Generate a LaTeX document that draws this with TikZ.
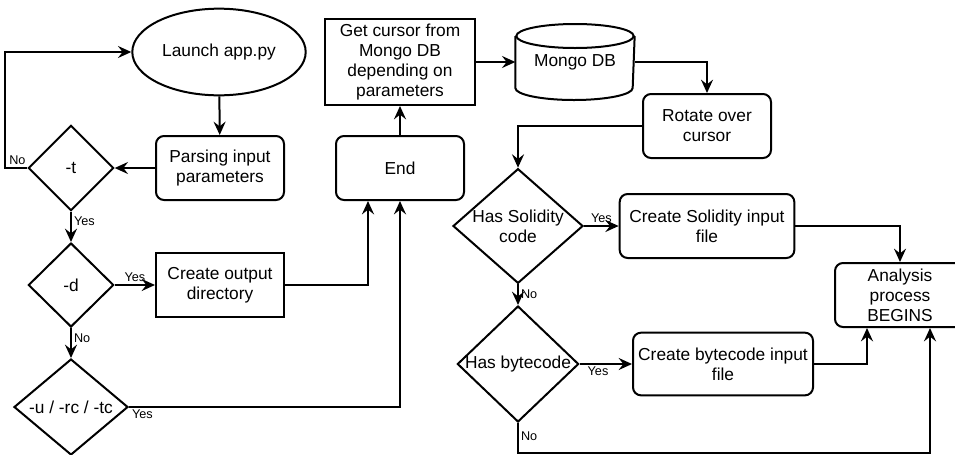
\documentclass[tikz,border=0pt]{standalone}
\usepackage{fontspec}
\setmainfont{Liberation Sans}
\usetikzlibrary{shapes.geometric, arrows.meta}

\begin{document}
\begin{tikzpicture}[x=0.75pt, y=-0.75pt, line width=1.5pt, font=\fontsize{13}{15}\selectfont,
	every node/.style={align=center},
	process/.style={draw, rounded corners=6pt, minimum width=96pt, minimum height=48pt},
	plainbox/.style={draw, minimum width=96pt, minimum height=48pt},
	decision/.style={draw, diamond, inner sep=0pt},
	flow/.style={-{Stealth[length=10pt,width=9pt,inset=3.5pt]}},
	tag/.style={font=\fontsize{9.5}{11}\selectfont, inner sep=1.5pt},]

\clip (0,0) rectangle (955,454);

% left column
\node[draw, ellipse, minimum width=96pt, minimum height=65pt] (launch) at (219,52) {Launch app.py};
\node[process] (parse) at (220,168) {Parsing input\\parameters};
\node[decision, minimum width=64pt, minimum height=64pt, label=center:{-t}] (t) at (71,168) {};
\node[decision, minimum width=64pt, minimum height=63pt, label=center:{-d}] (d) at (71,285) {};
\node[plainbox] (outdir) at (220,285) {Create output\\directory};
\node[decision, minimum width=85.5pt, minimum height=72pt, label=center:{-u / -rc / -tc}] (u) at (71,407) {};

% middle
\node[process] (end) at (400,168) {End};
\node[plainbox, minimum width=112.5pt, minimum height=64.5pt] (getcur) at (400,62) {Get cursor from\\Mongo DB\\depending on\\parameters};
\node[minimum width=88pt, minimum height=55.5pt] (mongo) at (575,62) {Mongo DB};
% database drum
\draw ([yshift=-9pt]mongo.north) ellipse [x radius=44pt, y radius=9pt];
\draw ([yshift=-9pt]mongo.north west) -- ([yshift=9pt]mongo.south west)
	arc [start angle=180, end angle=360, x radius=44pt, y radius=9pt] -- ([yshift=-9pt]mongo.north east);
\node[process] (rotate) at (707,126) {Rotate over\\cursor};

% right part
\node[decision, minimum width=97.5pt, minimum height=86pt, label={[align=center]center:Has Solidity\\code}] (sol) at (518,226) {};
\node[process, minimum width=131pt] (solfile) at (707,226) {Create Solidity input\\file};
\node[decision, minimum width=91pt, minimum height=87pt, label=center:{Has bytecode}] (byte) at (518,364) {};
\node[process, minimum width=135pt, minimum height=47pt] (bytefile) at (723,364) {Create bytecode input\\file};
\node[process, minimum width=97.5pt] (analysis) at (900,295) {Analysis\\process\\BEGINS};

\draw[flow] (launch) -- (parse);
\draw[flow] (parse) -- (t);
\draw[flow] (t.west) -- node[tag, above, pos=0.45] (noT) {No} ++(-22,0) |- (launch.west);
\draw[flow] (t) -- node[tag, right, pos=0.3] (yesT) {Yes} (d);
\draw[flow] (d) -- node[tag, above, pos=0.5] (yesD) {Yes} (outdir);
\draw[flow] (d) -- node[tag, right, pos=0.35] (noD) {No} (u);
\draw[flow] (outdir.east) -| ([xshift=-24pt]end.south);
\draw[flow] (u.east) -| node[tag, anchor=north west, pos=0] (yesU) {Yes} (end.south);
\draw[flow] (end) -- (getcur);
\draw[flow] (getcur) -- (mongo);
\draw[flow] (mongo.east) -| (rotate.north);
\draw[flow] (rotate.west) -| (sol.north);
\draw[flow] (sol) -- node[tag, above] (yesS) {Yes} (solfile);
\draw[flow] (sol) -- node[tag, right] (noS) {No} (byte);
\draw[flow] (solfile.east) -| (analysis.north);
\draw[flow] (byte) -- node[tag, below, pos=0.35] (yesB) {Yes} (bytefile);
\draw[flow] (bytefile.east) -| ([xshift=-24.75pt]analysis.south);
\draw[flow] (byte.south) -- node[tag, right, pos=0.45] (noB) {No} ++(0,30) -| ([xshift=22.5pt]analysis.south);
\end{tikzpicture}
\end{document}
